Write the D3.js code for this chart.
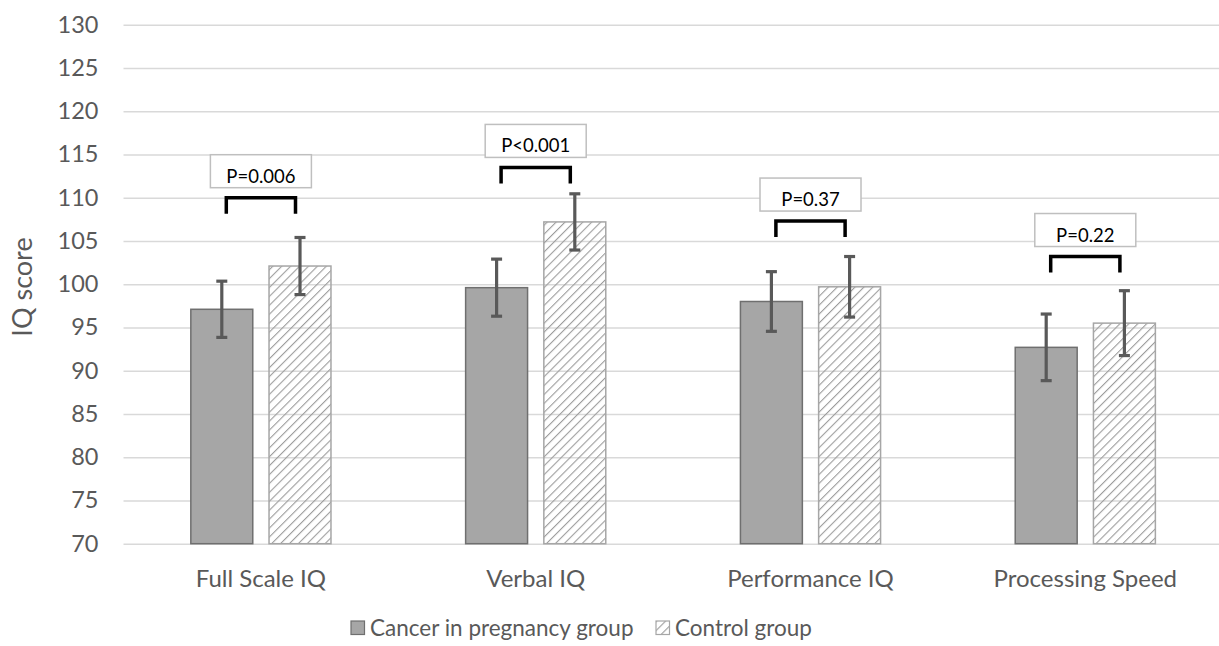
<!DOCTYPE html>
<html>
<head>
<meta charset="utf-8">
<title>IQ scores</title>
<script src="https://cdn.jsdelivr.net/npm/d3@7"></script>
<style>
  body { margin: 0; background: #fff; }
  svg { display: block; font-family: Lato, "Open Sans", sans-serif; }
</style>
</head>
<body>
<div id="chart"></div>
<script>
const categories = ["Full Scale IQ", "Verbal IQ", "Performance IQ", "Processing Speed"];
const series = ["Cancer in pregnancy group", "Control group"];
const cancerMean = [97.1, 99.6, 98.0, 92.7];
const cancerErr = [3.25, 3.3, 3.45, 3.85];
const controlMean = [102.1, 107.2, 99.7, 95.5];
const controlErr = [3.3, 3.25, 3.5, 3.75];
const pLabels = ["P=0.006", "P<0.001", "P=0.37", "P=0.22"];
const bracketLevel = [110, 113.5, 107.3, 103.2];
const yTicks = [70, 75, 80, 85, 90, 95, 100, 105, 110, 115, 120, 125, 130];

const w = 1219;
const h = 646;
const plotLeft = 123.5, plotRight = 1222.7, plotTop = 24.7, plotBottom = 543.7;

const svg = d3.select("#chart")
    .append("svg")
    .attr("width", w)
    .attr("height", h);

// hatch for the control group
const defs = svg.append("defs");
defs.append("pattern")
    .attr("id", "hatch")
    .attr("patternUnits", "userSpaceOnUse")
    .attr("width", 6.3)
    .attr("height", 6.3)
    .attr("patternTransform", "rotate(45)")
    .append("line")
    .attr("x1", 0).attr("y1", 0)
    .attr("x2", 0).attr("y2", 6.3)
    .attr("stroke", "#9c9c9c")
    .attr("stroke-width", 2.2);

const x0 = d3.scaleBand()
    .domain(categories)
    .range([plotLeft, plotRight])
    .paddingInner(0.49)
    .paddingOuter(0.245);

const x1 = d3.scaleBand()
    .domain(series)
    .range([0, x0.bandwidth()])
    .paddingInner(0.208);

const y = d3.scaleLinear()
    .domain([70, 130])
    .range([plotBottom, plotTop]);

// gridlines + tick labels
const yAxis = d3.axisLeft(y)
    .tickValues(yTicks)
    .tickSize(-(plotRight - plotLeft))
    .tickPadding(25);

const gy = svg.append("g")
    .attr("transform", "translate(" + plotLeft + ",0)")
    .call(yAxis);
gy.select(".domain").remove();
gy.selectAll(".tick line")
    .attr("stroke", "#d9d9d9")
    .attr("stroke-width", 1.5);
gy.selectAll(".tick text")
    .attr("fill", "#595959")
    .style("font-size", "23.5px")
    .style("font-family", "Lato, sans-serif");

svg.append("text")
    .attr("transform", "translate(32,287) rotate(-90)")
    .attr("text-anchor", "middle")
    .attr("fill", "#595959")
    .style("font-size", "27px")
    .text("IQ score");

const rows = categories.map((c, i) => ({
    cat: c,
    vals: [
        { s: series[0], v: cancerMean[i], e: cancerErr[i] },
        { s: series[1], v: controlMean[i], e: controlErr[i] }
    ]
}));

const groups = svg.selectAll(".grp")
    .data(rows)
    .enter()
    .append("g")
    .attr("class", "grp")
    .attr("transform", d => "translate(" + x0(d.cat) + ",0)");

groups.selectAll("rect")
    .data(d => d.vals)
    .enter()
    .append("rect")
    .attr("x", d => x1(d.s))
    .attr("y", d => y(d.v))
    .attr("width", x1.bandwidth())
    .attr("height", d => y(70) - y(d.v))
    .attr("fill", (d, i) => i === 0 ? "#a6a6a6" : "url(#hatch)")
    .attr("stroke", (d, i) => i === 0 ? "#6f6f6f" : "#a6a6a6")
    .attr("stroke-width", 1.5);

// error bars
const err = groups.selectAll(".err")
    .data(d => d.vals)
    .enter()
    .append("g")
    .attr("class", "err")
    .attr("stroke", "#595959")
    .attr("stroke-width", 3.2);
err.append("line")
    .attr("x1", d => x1(d.s) + x1.bandwidth() / 2)
    .attr("x2", d => x1(d.s) + x1.bandwidth() / 2)
    .attr("y1", d => y(d.v + d.e))
    .attr("y2", d => y(d.v - d.e));
err.append("line")
    .attr("x1", d => x1(d.s) + x1.bandwidth() / 2 - 5.5)
    .attr("x2", d => x1(d.s) + x1.bandwidth() / 2 + 5.5)
    .attr("y1", d => y(d.v + d.e))
    .attr("y2", d => y(d.v + d.e));
err.append("line")
    .attr("x1", d => x1(d.s) + x1.bandwidth() / 2 - 5.5)
    .attr("x2", d => x1(d.s) + x1.bandwidth() / 2 + 5.5)
    .attr("y1", d => y(d.v - d.e))
    .attr("y2", d => y(d.v - d.e));

// significance brackets and p-value boxes
const ax = x1(series[0]) + x1.bandwidth() / 2 + 4.5;
const bx = x1(series[1]) + x1.bandwidth() / 2 - 4.5;
groups.append("path")
    .attr("d", (d, i) => {
        const yt = y(bracketLevel[i]), yb = yt + 16;
        return "M" + ax + "," + yb + "V" + yt + "H" + bx + "V" + yb;
    })
    .attr("fill", "none")
    .attr("stroke", "#000")
    .attr("stroke-width", 3.5);

const boxW = 101, boxH = 33;
const cx = x0.bandwidth() / 2;
groups.append("rect")
    .attr("x", cx - boxW / 2)
    .attr("y", (d, i) => y(bracketLevel[i]) - 10 - boxH)
    .attr("width", boxW)
    .attr("height", boxH)
    .attr("fill", "#fff")
    .attr("stroke", "#bfbfbf")
    .attr("stroke-width", 1.5);
groups.append("text")
    .attr("x", cx)
    .attr("y", (d, i) => y(bracketLevel[i]) - 15)
    .attr("text-anchor", "middle")
    .attr("fill", "#000")
    .style("font-size", "18.5px")
    .text((d, i) => pLabels[i]);

// category labels
svg.selectAll(".cat")
    .data(categories)
    .enter()
    .append("text")
    .attr("class", "cat")
    .attr("x", d => x0(d) + x0.bandwidth() / 2)
    .attr("y", 587)
    .attr("text-anchor", "middle")
    .attr("fill", "#595959")
    .style("font-size", "24px")
    .text(d => d);

// legend
const legendX = [351, 656];
const leg = svg.selectAll(".leg")
    .data(series)
    .enter()
    .append("g")
    .attr("class", "leg")
    .attr("transform", (d, i) => "translate(" + legendX[i] + ",621)");
leg.append("rect")
    .attr("width", 13.5)
    .attr("height", 13.5)
    .attr("fill", (d, i) => i === 0 ? "#a6a6a6" : "url(#hatch)")
    .attr("stroke", (d, i) => i === 0 ? "#6f6f6f" : "#a6a6a6")
    .attr("stroke-width", 1.2);
leg.append("text")
    .attr("x", 19)
    .attr("y", 14.5)
    .attr("fill", "#595959")
    .style("font-size", "22.5px")
    .text(d => d);
</script>
</body>
</html>
